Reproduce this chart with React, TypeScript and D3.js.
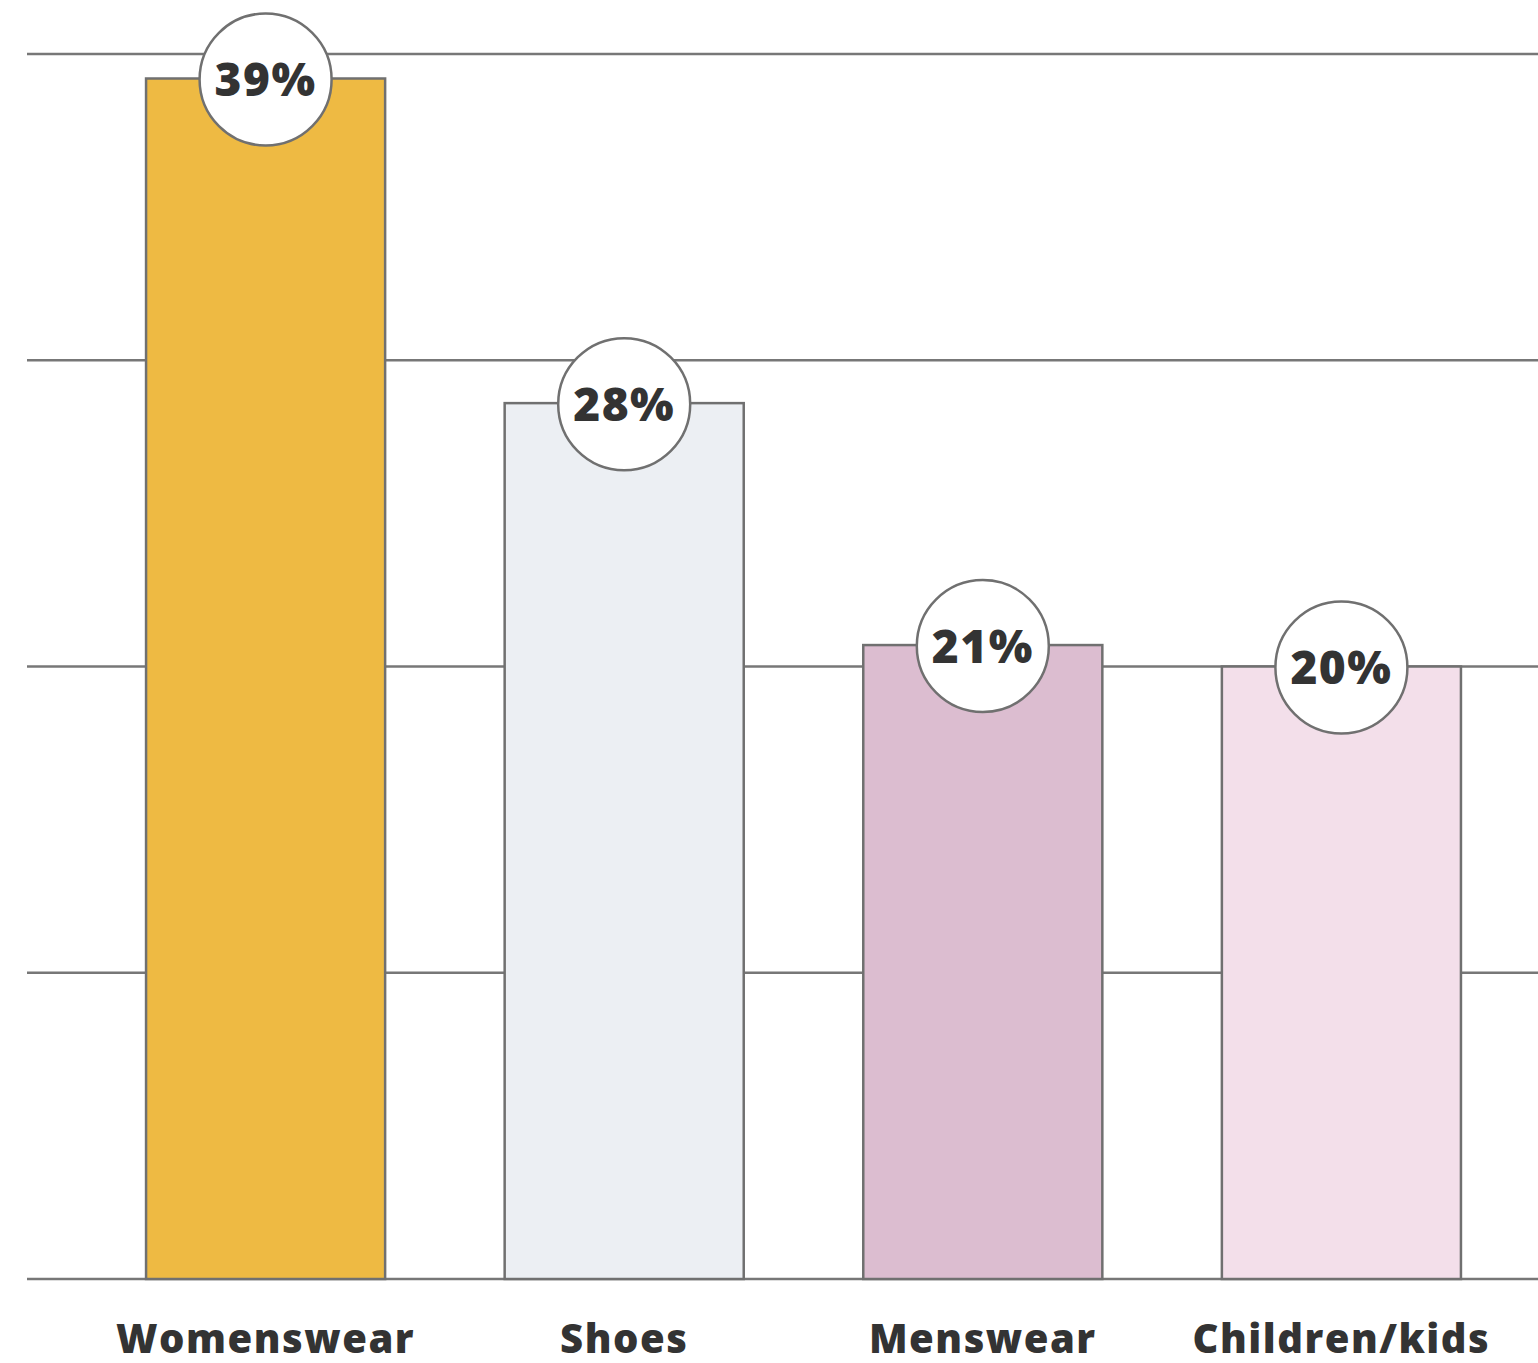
import React from "react";
import * as d3 from "d3";

const categories = ["Womenswear", "Shoes", "Menswear", "Children/kids"];
const values = [39.2, 28.6, 20.7, 20.0];
const valueLabels = ["39%", "28%", "21%", "20%"];
const colors = ["#EEBA43", "#ECEFF3", "#DCBDD0", "#F3DFEA"];
const gridTicks = [0, 10, 20, 30, 40];

const W = 1538;
const H = 1363;

export default function App() {
  const x = d3
    .scaleBand<string>()
    .domain(categories)
    .range([27, 1580])
    .paddingInner(1 / 3)
    .paddingOuter(0.332);
  const y = d3.scaleLinear().domain([0, 40]).range([1279, 54]);
  const font = "'Open Sans', 'DejaVu Sans', sans-serif";
  return (
    <svg
      width={W}
      height={H}
      style={{ position: "absolute", left: 0, top: 0, display: "block", background: "#fff" }}
    >
      {gridTicks.map((t) => (
        <line key={t} x1={27} x2={W} y1={y(t)} y2={y(t)} stroke="#777" strokeWidth={2.5} />
      ))}
      {categories.map((c, i) => (
        <rect
          key={c}
          x={x(c)!}
          y={y(values[i])}
          width={x.bandwidth()}
          height={y(0) - y(values[i])}
          fill={colors[i]}
          stroke="#707070"
          strokeWidth={2.5}
        />
      ))}
      {categories.map((c, i) => {
        const cx = x(c)! + x.bandwidth() / 2;
        const cy = y(values[i]) + 1;
        return (
          <g key={c + "l"}>
            <circle cx={cx} cy={cy} r={66} fill="#fff" stroke="#707070" strokeWidth={2.5} />
            <text
              x={cx}
              y={cy}
              dy="0.36em"
              textAnchor="middle"
              fontFamily={font}
              fontWeight={800}
              fontSize={46}
              letterSpacing={1.5}
              fill="#333"
            >
              {valueLabels[i]}
            </text>
          </g>
        );
      })}
      {categories.map((c) => (
        <text
          key={c + "t"}
          x={x(c)! + x.bandwidth() / 2}
          y={1353}
          textAnchor="middle"
          fontFamily={font}
          fontWeight={800}
          fontSize={40}
          letterSpacing={1.5}
          fill="#333"
        >
          {c}
        </text>
      ))}
    </svg>
  );
}
